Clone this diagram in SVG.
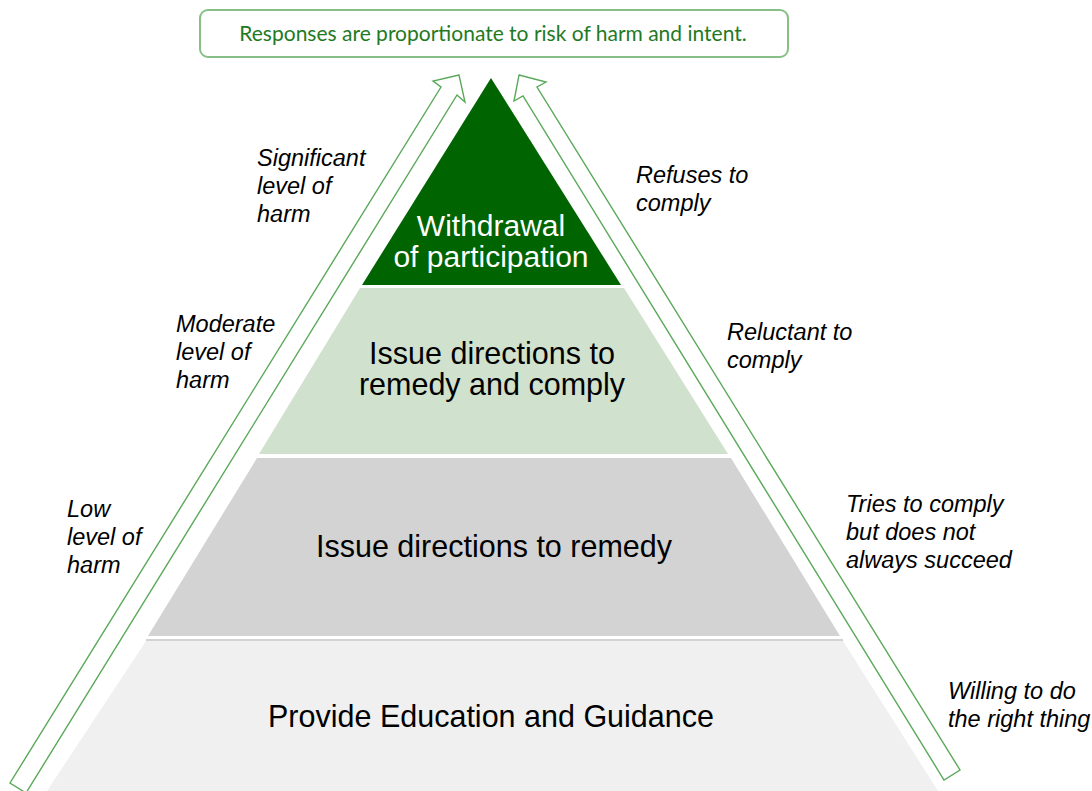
<svg xmlns="http://www.w3.org/2000/svg" width="1092" height="791" viewBox="0 0 1092 791">
  <style>
    .lbl { font-family: "Liberation Sans", Arial, sans-serif; font-style: italic; font-size: 23.5px; fill: #000; }
    .tier { font-family: "Liberation Sans", Arial, sans-serif; font-size: 30.5px; text-anchor: middle; fill: #000; }
    .tier1 { font-family: "Liberation Sans", Arial, sans-serif; font-size: 30px; text-anchor: middle; fill: #ffffff; }
    .arrow { fill: none; stroke: #5aa85a; stroke-width: 1.4; stroke-linejoin: miter; }
  </style>
  <rect width="1092" height="791" fill="#ffffff"/>

  <g id="header">
    <rect x="200" y="10" width="588" height="47" rx="8" ry="8" fill="#ffffff" stroke="#86c086" stroke-width="2"/>
    <text x="493" y="41" text-anchor="middle" font-family="Lato, 'Open Sans', sans-serif" font-size="21" fill="#1f7a1f">Responses are proportionate to risk of harm and intent.</text>
  </g>

  <g id="tier4">
    <polygon points="146,641 843,641 938,791 47,791" fill="#f0f0f0"/>
    <line x1="146" y1="640" x2="843" y2="640" stroke="#c4c4c4" stroke-width="1.5"/>
    <text class="tier" x="491" y="727">Provide Education and Guidance</text>
  </g>

  <g id="tier3">
    <polygon points="257,458 731,458 840,636 148,636" fill="#d3d3d3"/>
    <text class="tier" x="494" y="557">Issue directions to remedy</text>
  </g>

  <g id="tier2">
    <polygon points="360,288 624,288 728,454 259,454" fill="#d0e1cd"/>
    <text class="tier" x="492" y="364">Issue directions to</text>
    <text class="tier" x="492" y="395">remedy and comply</text>
  </g>

  <g id="tier1">
    <polygon points="491,78 621,285 362,285" fill="#006400"/>
    <text class="tier1" x="491" y="236">Withdrawal</text>
    <text class="tier1" x="491" y="267">of participation</text>
  </g>

  <g id="connectors">
    <polygon class="arrow" points="459,75 433,81 441,87 10,783 26,793 457,95 465,102"/>
    <polygon class="arrow" points="519,75 546,82 537,87 960,770 944,780 523,96 514,101"/>
  </g>

  <g id="labels-left">
    <text class="lbl" x="257" y="166">Significant</text>
    <text class="lbl" x="257" y="194">level of</text>
    <text class="lbl" x="257" y="222">harm</text>
    <text class="lbl" x="176" y="332">Moderate</text>
    <text class="lbl" x="176" y="360">level of</text>
    <text class="lbl" x="176" y="388">harm</text>
    <text class="lbl" x="67" y="517">Low</text>
    <text class="lbl" x="67" y="545">level of</text>
    <text class="lbl" x="67" y="573">harm</text>
  </g>

  <g id="labels-right">
    <text class="lbl" x="636" y="183">Refuses to</text>
    <text class="lbl" x="636" y="211">comply</text>
    <text class="lbl" x="727" y="340">Reluctant to</text>
    <text class="lbl" x="727" y="368">comply</text>
    <text class="lbl" x="846" y="512">Tries to comply</text>
    <text class="lbl" x="846" y="540">but does not</text>
    <text class="lbl" x="846" y="568">always succeed</text>
    <text class="lbl" x="948" y="699">Willing to do</text>
    <text class="lbl" x="948" y="727">the right thing</text>
  </g>
</svg>
